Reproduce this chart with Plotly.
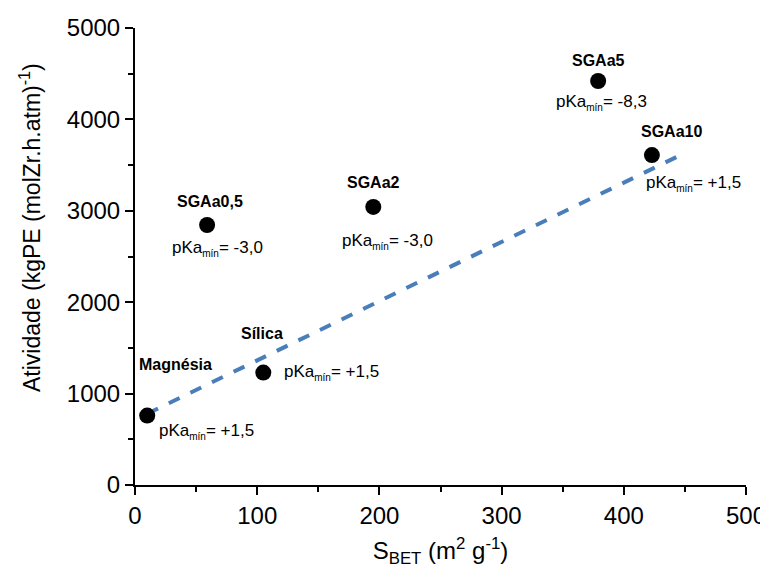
import plotly.graph_objects as go

# Data
names = ["Magnésia", "Sílica", "SGAa0,5", "SGAa2", "SGAa5", "SGAa10"]
sbet = [10, 105, 59, 195, 379, 423]
atividade = [760, 1230, 2845, 3042, 4420, 3610]
pka = ["+1,5", "+1,5", "-3,0", "-3,0", "-8,3", "+1,5"]

# Linear trend line endpoints (as drawn)
fit_x = [10, 445]
fit_y = [780, 3600]

# label offsets in pixels (layout only)
name_shift = [(28, 51), (-1, 39), (3, 23), (0, 24), (0, 21), (20, 24)]
pka_shift = [(10, -16), (19, 0), (-37, -24), (-33, -35), (-44, -21), (-8, -28)]

FONT = "Liberation Sans, Arial, sans-serif"

# the page body has an 8px margin; target plot area in page px: 135..746, 28..485
OFF = 8
W, H = 768, 576
l, t = 135 - OFF, 28 - OFF
r = W - (746 - OFF)
b = H - (485 - OFF)
pw, ph = W - l - r, H - t - b

fig = go.Figure()
fig.add_trace(go.Scatter(
    x=fit_x, y=fit_y, mode="lines",
    line=dict(color="#4A7EBB", width=4, dash="dash"),
    showlegend=False, hoverinfo="skip"))
fig.add_trace(go.Scatter(
    x=sbet, y=atividade, mode="markers",
    marker=dict(color="black", size=16),
    showlegend=False))

for n, xv, yv, p, ns, ps in zip(names, sbet, atividade, pka, name_shift, pka_shift):
    fig.add_annotation(x=xv, y=yv, xref="x", yref="y", text="<b>%s</b>" % n,
                       showarrow=False, xanchor="center", yanchor="middle",
                       xshift=ns[0], yshift=ns[1],
                       font=dict(family=FONT, size=16, color="black"))
    fig.add_annotation(x=xv, y=yv, xref="x", yref="y",
                       text="pKa<sub><span style='font-size:10px'>mín</span></sub>= %s" % p,
                       showarrow=False, xanchor="left", yanchor="middle",
                       xshift=ps[0], yshift=ps[1],
                       font=dict(family=FONT, size=17, color="black"))

# y-axis title placed as an annotation to match the reference position
fig.add_annotation(x=(30 - OFF - l) / pw, y=(H - b - (228 - OFF)) / ph,
                   xref="paper", yref="paper",
                   text="Atividade (kgPE (molZr.h.atm)<sup>-1</sup>)",
                   showarrow=False, textangle=-90, xanchor="center", yanchor="middle",
                   font=dict(family=FONT, size=23, color="black"))

fig.update_layout(
    width=W, height=H,
    margin=dict(l=l, r=r, t=t, b=b),
    paper_bgcolor="white", plot_bgcolor="white",
    font=dict(family=FONT, color="black"),
    xaxis=dict(range=[0, 500], dtick=100, showline=True, linecolor="black", linewidth=2,
               ticks="outside", ticklen=8, tickwidth=2, tickcolor="black",
               minor=dict(ticks="outside", ticklen=5, tickwidth=2, dtick=50, tickcolor="black"),
               showgrid=False, zeroline=False, automargin=False,
               tickfont=dict(size=24, family=FONT),
               title=dict(text="S<sub>BET</sub> (m<sup>2</sup> g<sup>-1</sup>)",
                          font=dict(size=24, family=FONT), standoff=14)),
    yaxis=dict(range=[0, 5000], dtick=1000, showline=True, linecolor="black", linewidth=2,
               ticks="outside", ticklen=8, tickwidth=2, tickcolor="black",
               minor=dict(ticks="outside", ticklen=5, tickwidth=2, dtick=500, tickcolor="black"),
               showgrid=False, zeroline=False, automargin=False,
               tickfont=dict(size=24, family=FONT)),
)

fig.write_html("out.html")
